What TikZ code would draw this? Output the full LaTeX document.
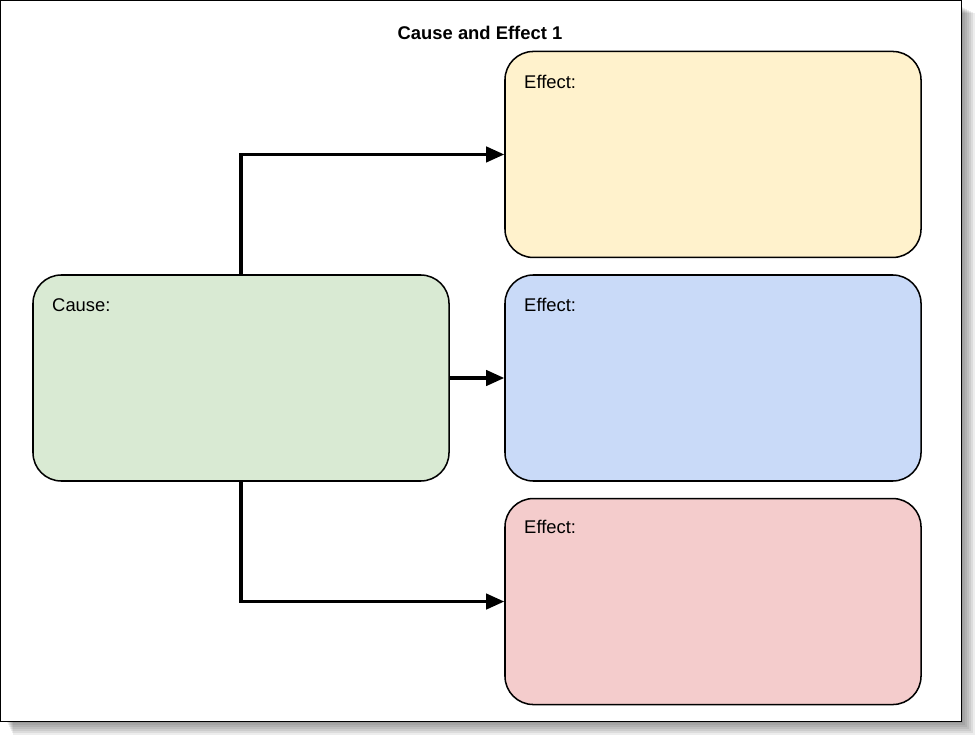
\documentclass[tikz,border=0pt]{standalone}
\usepackage{fontspec}
\setmainfont{Liberation Sans}
\usetikzlibrary{positioning,arrows.meta}

\definecolor{causegreen}{HTML}{D9EAD3}
\definecolor{effectyellow}{HTML}{FFF2CC}
\definecolor{effectblue}{HTML}{C9DAF8}
\definecolor{effectred}{HTML}{F4CCCC}

\begin{document}
\begin{tikzpicture}[
    x=0.03cm, y=-0.03cm,
    box/.style={rectangle, draw, line width=1.3pt, rounded corners=0.85cm,
        minimum width=12.48cm, minimum height=6.18cm, inner sep=0pt},
    tag/.style={anchor=base west, inner sep=0pt, font=\fontsize{15.7}{18}\selectfont},
    arrow/.style={-{Triangle[length=0.54cm, width=0.46cm]}, line width=2.6pt}
]

\useasboundingbox (0,0) rectangle (977,737);

% Schatten und Rahmen
\foreach \i in {1,...,7}
    \fill[black, opacity=0.07] (6+\i,6+\i) rectangle (961+2*\i,721+2*\i);
\draw[fill=white, line width=0.8pt] (0,0) rectangle (961,721);

% Titel
\node[font=\bfseries\fontsize{15.7}{18}\selectfont] (title) at (480,33) {Cause and Effect 1};

% Ursache und Wirkungen
\node[box, fill=causegreen] (cause) at (241,378) {};
\node[box, fill=effectblue] (effecttwo) at (713,378) {};
\node[box, fill=effectyellow, above=0.48cm of effecttwo] (effectone) {};
\node[box, fill=effectred, below=0.48cm of effecttwo] (effectthree) {};

% Beschriftungen
\node[tag] (causetag) at (52,311) {Cause:};
\node[tag] (onetag) at (524,89) {Effect:};
\node[tag] (twotag) at (524,311) {Effect:};
\node[tag] (threetag) at (524,533) {Effect:};

% Pfeile
\draw[arrow] (cause.north) |- (effectone.west);
\draw[arrow] (cause.east) -- (effecttwo.west);
\draw[arrow] (cause.south) |- (effectthree.west);

\end{tikzpicture}
\end{document}
